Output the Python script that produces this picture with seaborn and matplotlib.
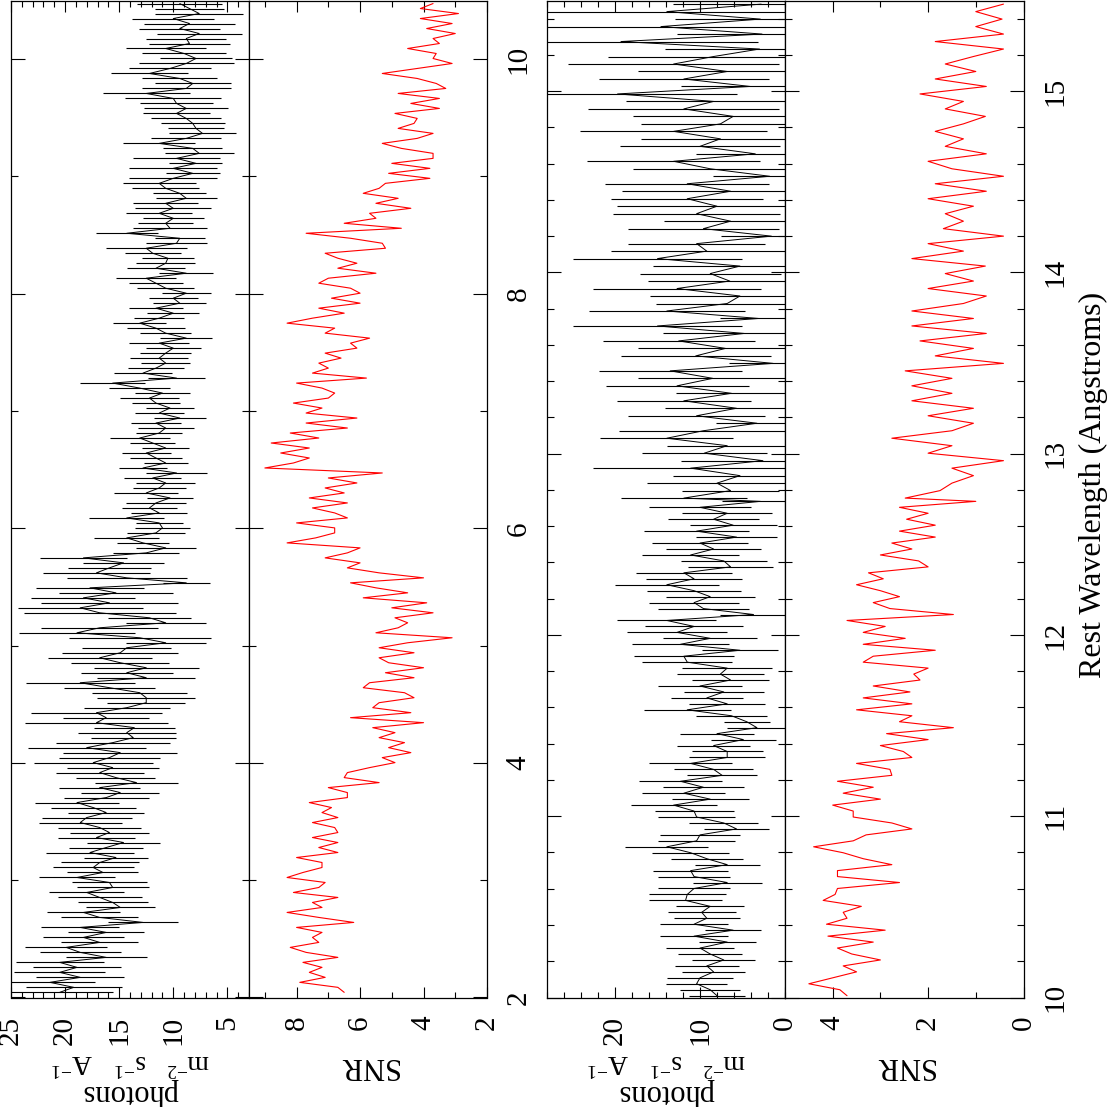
import matplotlib
import numpy as np
import pandas as pd
import seaborn as sns
from matplotlib import pyplot as plt
from matplotlib.ticker import MultipleLocator

# Use the Agg backend, no display available
matplotlib.use("Agg")

# ---- data -------------------------------------------------------------------
# First stretch (2 - 10.5 A), listed from the long-wavelength end downwards
WAVE_A_RANGE = (10.474, 2.044)
FLUX_A = [
    9.4, 8.5, 7.6, 10.0, 8.5, 9.4, 7.6, 8.8, 8.5, 10.7,
    9.0, 7.9, 8.8, 10.3, 12.2, 9.4, 8.2, 8.8, 12.5, 10.0,
    9.7, 8.8, 9.7, 8.8, 8.2, 7.9, 7.3, 8.8, 11.3, 8.2,
    7.6, 9.7, 7.9, 10.0, 8.2, 10.0, 11.3, 10.7, 9.4, 8.8,
    10.7, 10.0, 11.3, 10.0, 10.7, 10.3, 14.3, 9.4, 9.7, 12.5,
    11.9, 10.5,
    10.7, 11.6, 8.8, 12.5, 11.6, 10.7, 8.8, 10.0, 9.4, 11.6,
    10.0, 11.3, 13.1, 11.6, 10.7, 8.8, 11.3, 10.0, 10.7, 11.3,
    10.7, 11.6, 12.8, 9.7, 15.6, 13.1, 11.0, 12.2, 11.6, 10.3,
    11.3, 9.4, 11.6, 10.7, 11.3, 13.1, 11.9, 10.7, 12.5, 11.6,
    10.7, 12.8, 9.7, 11.9, 10.7, 11.3, 12.5, 10.3, 11.6, 12.2,
    11.3, 14.3, 11.3, 11.0, 11.6, 14.3, 12.8, 10.7, 12.5, 18.3,
    14.6, 15.9, 17.1, 14.3, 8.8, 17.7, 15.3, 18.3, 15.9, 18.6,
    16.8, 12.2, 10.7, 16.8, 18.9, 13.1, 10.7, 14.3, 14.9, 16.8,
    14.9, 12.5, 14.3, 12.5, 18.6, 15.9, 13.1, 12.5, 12.5, 14.3,
    17.1, 16.2, 17.1, 13.6, 14.3, 13.7, 15.6, 18.0, 14.9, 15.9,
    17.4, 15.6, 16.8, 15.3, 13.4, 16.8, 14.9, 16.2, 18.9, 17.4,
    16.2, 18.0, 18.6, 16.8, 15.9, 17.1, 14.6, 16.2, 17.7, 15.3,
    16.8, 17.4, 16.5, 18.9, 15.9, 15.6, 18.0, 16.8, 15.6, 14.9,
    18.3, 16.8, 12.8, 18.6, 16.2, 18.3, 16.8, 19.9, 18.6, 16.2,
    20.5, 18.9, 20.5, 18.6, 21.4, 19.2, 20.5,
]
SNR_A = [
    3.7, 4.1, 2.9, 4.1, 3.1, 3.9, 3.0, 3.7, 3.5, 4.5,
    3.6, 3.7, 3.1, 4.2, 5.3, 4.2, 3.6, 3.3, 4.8, 3.5,
    4.4, 3.5, 4.9, 4.2, 4.3, 4.8, 3.7, 4.2, 5.3, 4.7,
    3.7, 3.7, 5.0, 3.8, 5.1, 3.8, 5.2, 5.4, 5.9, 4.8,
    5.5, 4.4, 5.7, 5.5, 6.5, 4.7, 7.7, 6.3, 5.3, 5.2,
    7.1, 6.7,
    6.1, 6.7, 5.5, 7.0, 7.3, 6.3, 6.0, 6.9, 6.0, 7.3,
    6.5, 7.5, 8.3, 6.8, 7.1, 5.7, 6.3, 6.1, 7.1, 6.6,
    7.3, 7.0, 7.5, 5.8, 8.0, 7.2, 6.8, 7.0, 8.1, 7.2,
    7.7, 6.1, 7.7, 6.4, 8.2, 7.3, 8.8, 7.6, 8.5, 7.6,
    8.1, 9.0, 5.3, 7.0, 6.1, 7.1, 6.5, 7.6, 6.4, 7.5,
    6.8, 6.4, 8.0, 6.8, 6.8, 7.4, 8.3, 6.0, 6.4, 7.1,
    6.0, 6.4, 5.4, 4.0, 6.3, 5.5, 4.5, 5.9, 3.9, 5.0,
    3.7, 4.9, 4.5, 4.8, 5.5, 3.1, 4.5, 5.4, 4.3, 5.4,
    5.1, 4.0, 5.2, 4.3, 5.7, 5.9, 4.6, 4.3, 5.4, 5.6,
    4.4, 6.3, 4.0, 5.6, 4.9, 5.4, 4.6, 5.1, 4.4, 5.3,
    4.9, 5.7, 6.4, 6.5, 5.4, 7.0, 6.4, 6.4, 7.6, 6.9,
    7.2, 6.7, 7.5, 6.8, 6.7, 7.5, 6.7, 7.3, 6.7, 8.0,
    7.2, 7.2, 7.8, 8.3, 7.1, 7.3, 8.1, 6.7, 7.5, 7.2,
    8.3, 7.3, 6.2, 8.0, 7.2, 7.5, 7.3, 8.2, 7.7, 6.7,
    7.8, 7.2, 7.6, 7.1, 7.9, 6.7, 6.5,
]

# Second stretch (10 - 15.5 A), upper part then lower part
WAVE_B_UPPER = (15.48, 12.755)
FLUX_B_UPPER = [
    2.8, 13.9, 2.9, 14.6, 2.7, 19.3, 3.0, 8.4, 13.1, 6.8,
    11.9, 4.1, 19.7, 8.4, 11.9, 6.1, 7.6, 13.1, 7.6, 10.0,
    3.5, 13.1, 8.8, 1.8, 11.5, 6.4, 11.5, 8.0, 10.4, 6.4,
    9.6, 1.6, 10.4, 9.2, 15.0, 5.3, 8.8, 6.5, 12.7, 5.3,
    6.8, 13.9, 3.1, 15.0, 4.8, 12.5, 7.0, 10.5, 1.4, 13.5,
    8.5, 12.7, 6.3, 11.9, 5.7, 10.4, 3.3, 9.6, 13.9, 6.8,
    9.5, 2.6, 11.1, 5.3, 8.0, 6.4, 11.9,
]
SNR_B_UPPER = [
    0.42, 1.0, 0.45, 1.0, 0.42, 1.85, 0.42, 1.05, 1.64, 1.0,
    1.85, 0.78, 2.17, 1.26, 1.64, 0.8, 1.26, 1.85, 1.26, 1.64,
    0.78, 2.0, 1.5, 0.42, 1.85, 0.78, 2.0, 1.05, 1.64, 1.26,
    1.68, 0.42, 2.0, 1.26, 2.34, 0.8, 1.64, 1.05, 2.0, 0.78,
    1.26, 2.34, 1.05, 2.34, 0.78, 2.17, 1.05, 1.85, 0.42, 2.48,
    1.5, 2.34, 1.5, 2.34, 1.05, 2.0, 1.05, 1.5, 2.76, 1.5,
    2.0, 0.42, 1.5, 1.05, 1.5, 1.75, 2.48,
]
WAVE_B_LOWER = (12.737, 10.01)
FLUX_B_LOWER = [
    2.9, 10.0, 6.8, 8.4, 6.1, 10.4, 5.7, 10.0, 8.4, 11.1,
    7.2, 6.4, 11.9, 10.7, 13.9, 10.7, 8.8, 10.7, 9.6, 3.7,
    13.9, 10.7, 12.7, 8.8, 12.3, 5.3, 11.9, 11.5, 6.8, 7.6,
    6.4, 10.0, 7.2, 9.2, 6.8, 11.5, 6.3, 4.5, 3.3, 8.0,
    4.9, 8.4, 6.8, 6.8, 11.1, 8.4, 7.4, 12.3, 9.6, 11.9,
    8.8, 13.1, 10.7, 10.4, 7.2, 5.7, 10.0, 10.4, 13.9, 11.1,
    9.2, 6.8, 11.1, 10.7, 6.8, 10.7, 11.5, 11.7, 8.8, 9.8,
    9.2, 10.7, 6.1, 10.7, 6.8, 10.0, 8.8, 7.2, 9.2, 8.4,
    10.0, 10.4, 8.8, 8.0,
]
SNR_B_LOWER = [
    1.0, 2.6, 2.0, 2.45, 1.85, 2.6, 1.85, 2.76, 2.34, 3.0,
    2.2, 2.0, 3.25, 2.94, 3.5, 3.0, 2.6, 3.15, 2.8, 1.47,
    3.7, 2.9, 3.36, 2.48, 3.36, 1.85, 3.15, 3.36, 2.0, 2.3,
    2.17, 3.15, 2.38, 3.36, 2.34, 3.5, 2.34, 2.6, 1.47, 2.87,
    2.0, 3.0, 2.52, 2.34, 3.5, 2.8, 2.76, 3.9, 3.15, 3.78,
    3.0, 4.0, 3.57, 3.57, 2.76, 2.34, 3.3, 3.57, 4.4, 3.78,
    3.36, 2.76, 3.9, 3.9, 2.6, 3.9, 3.95, 4.2, 3.4, 3.78,
    3.7, 4.13, 2.9, 4.1, 3.15, 3.9, 3.6, 3.0, 3.78, 3.5,
    4.0, 4.5, 3.85, 3.7,
]

# error bar half-length relative to flux/SNR
ERR_SCALE = 1.55

# ---- layout -----------------------------------------------------------------
FIG_PX = 1107
DPI = 100
TICK_SIZE = 21
LABEL_SIZE = 22


def _box(left, right, top=0.5, bottom=997.5):
    """Axes rectangle in figure fractions from pixel edges."""
    return [left / FIG_PX, 1 - bottom / FIG_PX, (right - left) / FIG_PX, (bottom - top) / FIG_PX]


def _frame(wave, flux, snr):
    df = pd.DataFrame({"wave": wave, "flux": flux, "snr": snr})
    df["err"] = ERR_SCALE * df["flux"] / df["snr"]
    return df


def style_axes(ax, val_lim, val_major, val_minor, wave_lim, wave_major, wave_minor, wave_labels):
    ax.set_xlim(*val_lim)
    ax.set_ylim(*wave_lim)
    ax.xaxis.set_major_locator(MultipleLocator(val_major))
    ax.xaxis.set_minor_locator(MultipleLocator(val_minor))
    ax.yaxis.set_major_locator(MultipleLocator(wave_major))
    ax.yaxis.set_minor_locator(MultipleLocator(wave_minor))
    ax.tick_params(which="both", direction="in", top=True, bottom=True, left=True, right=True,
                   width=0.8, color="black")
    ax.tick_params(axis="x", which="major", length=8)
    ax.tick_params(axis="x", which="minor", length=4.3)
    ax.tick_params(axis="y", which="major", length=10)
    ax.tick_params(axis="y", which="minor", length=5)
    ax.tick_params(axis="x", labelsize=TICK_SIZE, pad=13, labelrotation=90, labelbottom=True, labeltop=False)
    ax.tick_params(axis="y", labelsize=TICK_SIZE, pad=13.5, labelrotation=90,
                   labelleft=False, labelright=wave_labels)
    plt.setp(ax.get_yticklabels(), va="center")
    for spine in ax.spines.values():
        spine.set_linewidth(0.9)
        spine.set_color("black")
    ax.set_xlabel("")
    ax.set_ylabel("")


def draw_flux(ax, df):
    ax.hlines(df["wave"], df["flux"] - df["err"], df["flux"] + df["err"], color="black", lw=0.8)
    sns.lineplot(data=df, x="flux", y="wave", sort=False, estimator=None, color="black",
                 lw=0.7, ax=ax, legend=False)


def draw_snr(ax, df):
    sns.lineplot(data=df, x="snr", y="wave", sort=False, estimator=None, color="red",
                 lw=0.8, ax=ax, legend=False)


sns.set_theme(style="ticks", rc={"axes.facecolor": "white", "figure.facecolor": "white"})
plt.rcParams["font.family"] = ["Liberation Serif", "DejaVu Serif"]
plt.rcParams["mathtext.fontset"] = "custom"
plt.rcParams["mathtext.rm"] = "Liberation Serif"
plt.rcParams["mathtext.it"] = "Liberation Serif:italic"
plt.rcParams["text.color"] = "black"
plt.rcParams["xtick.color"] = "black"
plt.rcParams["ytick.color"] = "black"

df_a = _frame(np.linspace(*WAVE_A_RANGE, len(FLUX_A)), FLUX_A, SNR_A)
df_b = pd.concat([
    _frame(np.linspace(*WAVE_B_UPPER, len(FLUX_B_UPPER)), FLUX_B_UPPER, SNR_B_UPPER),
    _frame(np.linspace(*WAVE_B_LOWER, len(FLUX_B_LOWER)), FLUX_B_LOWER, SNR_B_LOWER),
], ignore_index=True)

fig = plt.figure(figsize=(FIG_PX / DPI, FIG_PX / DPI), dpi=DPI)

ax_fa = fig.add_axes(_box(11, 249))
ax_sa = fig.add_axes(_box(249, 487))
ax_fb = fig.add_axes(_box(547, 785))
ax_sb = fig.add_axes(_box(785, 1023.5))

draw_flux(ax_fa, df_a)
draw_snr(ax_sa, df_a)
draw_flux(ax_fb, df_b)
draw_snr(ax_sb, df_b)

style_axes(ax_fa, (25, 3), 5, 1, (2, 10.5), 2, 1, False)
style_axes(ax_sa, (9.5, 2), 2, 1, (2, 10.5), 2, 1, True)
style_axes(ax_fb, (28, 0), 10, 2, (10, 15.5), 1, 0.2, False)
style_axes(ax_sb, (5, 0), 2, 1, (10, 15.5), 1, 0.2, True)

# axis titles, drawn in the rotated page orientation
for cx in (130, 666):
    fig.text(cx / FIG_PX, 1 - 1093 / FIG_PX, "photons", rotation=180,
             ha="center", va="center", fontsize=LABEL_SIZE)
    fig.text(cx / FIG_PX, 1 - 1062 / FIG_PX, r"m$^{-2}$   s$^{-1}$   A$^{-1}$", rotation=180,
             ha="center", va="center", fontsize=20)
for cx in (368, 904):
    fig.text(cx / FIG_PX, 1 - 1066 / FIG_PX, "SNR", rotation=180,
             ha="center", va="center", fontsize=LABEL_SIZE)
fig.text(1093 / FIG_PX, 1 - 485 / FIG_PX, "Rest Wavelength (Angstroms)", rotation=90,
         ha="center", va="center", fontsize=23)

fig.savefig("out.png", dpi=DPI)
plt.close(fig)
